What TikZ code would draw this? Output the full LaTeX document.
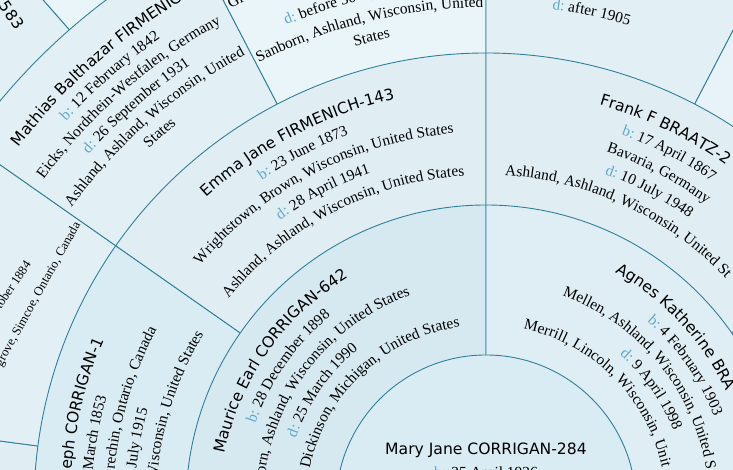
\documentclass[tikz,border=0pt]{standalone}
\usepackage{fontspec}
\setmainfont{Liberation Serif}
\setsansfont{DejaVu Sans}
\usetikzlibrary{decorations.text}

\definecolor{fanline}{HTML}{31809A}
\definecolor{lab}{HTML}{5AA9CB}
\definecolor{selfc}{HTML}{D9EBF3}
\definecolor{malec}{HTML}{D6E9F1}
\definecolor{femc}{HTML}{DFEEF4}
\definecolor{grandc}{HTML}{E0EEF4}
\definecolor{greatc}{HTML}{E2F0F5}
\definecolor{palec}{HTML}{EAF5F9}
\definecolor{midc}{HTML}{E7F3F8}

\newcommand\fnname{\fontsize{15.6}{20.5}\selectfont\sffamily}
\newcommand\fndet{\fontsize{15.4}{20.5}\selectfont\rmfamily}
\newcommand\fnsmall{\fontsize{12.7}{17}\selectfont\rmfamily}
\newcommand\fnlab{\fndet\color{lab}}

\begin{document}
\begin{tikzpicture}[x=1pt, y=1pt, font=\fndet,
  wedge/.style={fill=#1, draw=fanline, line width=0.9pt},
  arcmid/.style={decorate, decoration={text along path, text align=center, text={#1}}},
  arcleft/.style={decorate, decoration={text along path, text align=left, text={#1}}},
  arcright/.style={decorate, decoration={text along path, text align=right, text={#1}}}]
\useasboundingbox (-486,35) rectangle (247,505);

% fifth generation
\path[wedge=palec] (0,0) -- (117.5:720) arc[start angle=117.5, end angle=131.25, radius=720] -- cycle;
\path[wedge=greatc] (0,0) -- (131.25:720) arc[start angle=131.25, end angle=145, radius=720] -- cycle;

% great-grandparents
\path[wedge=grandc] (0,0) -- (172.5:632) arc[start angle=172.5, end angle=200, radius=632] -- cycle;
\path[wedge=greatc] (0,0) -- (145:632) arc[start angle=145, end angle=172.5, radius=632] -- cycle;
\path[wedge=greatc] (0,0) -- (117.5:632) arc[start angle=117.5, end angle=145, radius=632] -- cycle;
\path[wedge=palec] (0,0) -- (90:632) arc[start angle=90, end angle=117.5, radius=632] -- cycle;
\path[wedge=greatc] (0,0) -- (62.5:632) arc[start angle=62.5, end angle=90, radius=632] -- cycle;
\path[wedge=midc] (0,0) -- (35:632) arc[start angle=35, end angle=62.5, radius=632] -- cycle;
\path[wedge=greatc] (0,0) -- (7.5:632) arc[start angle=7.5, end angle=35, radius=632] -- cycle;
\path[wedge=greatc] (0,0) -- (-20:632) arc[start angle=-20, end angle=7.5, radius=632] -- cycle;

% grandparents
\path[wedge=selfc] (0,0) -- (145:452) arc[start angle=145, end angle=200, radius=452] -- cycle;
\path[wedge=grandc] (0,0) -- (90:452) arc[start angle=90, end angle=145, radius=452] -- cycle;
\path[wedge=grandc] (0,0) -- (35:452) arc[start angle=35, end angle=90, radius=452] -- cycle;
\path[wedge=greatc] (0,0) -- (-20:452) arc[start angle=-20, end angle=35, radius=452] -- cycle;

% parents
\path[wedge=malec] (0,0) -- (90:300) arc[start angle=90, end angle=200, radius=300] -- cycle;
\path[wedge=femc] (0,0) -- (-20:300) arc[start angle=-20, end angle=90, radius=300] -- cycle;

% root person
\path[wedge=selfc] (0,0) circle[radius=150];
\node[inner sep=0pt, font=\fnname] (self) at (0,55) {Mary Jane CORRIGAN-284};
\node[inner sep=0pt] (selfb) at (0,31) {\textcolor{lab}{b:} 25 April 1926};

% father
\path[arcmid={|\fnname|Maurice Earl CORRIGAN-642}] (205:266) arc[start angle=205, end angle=85, radius=266];
\path[arcmid={|\fnlab|b: |\fndet|28 December 1898}] (205:244.5) arc[start angle=205, end angle=85, radius=244.5];
\path[arcright={|\fndet|orn, Ashland, Wisconsin, United States}] (235:223) arc[start angle=235, end angle=109.8, radius=223];
\path[arcmid={|\fnlab|d: |\fndet|25 March 1990}] (205:201.5) arc[start angle=205, end angle=85, radius=201.5];
\path[arcright={|\fndet|Dickinson, Michigan, United States}] (235:180) arc[start angle=235, end angle=98.3, radius=180];

% mother
\path[arcleft={|\fnname|Agnes Katherine BRA}] (61:266) arc[start angle=61, end angle=-40, radius=266];
\path[arcmid={|\fnlab|b: |\fndet|4 February 1903}] (95:244.5) arc[start angle=95, end angle=-25, radius=244.5];
\path[arcleft={|\fndet|Mellen, Ashland, Wisconsin, United S}] (70:223) arc[start angle=70, end angle=-40, radius=223];
\path[arcmid={|\fnlab|d: |\fndet|9 April 1998}] (95:201.5) arc[start angle=95, end angle=-25, radius=201.5];
\path[arcleft={|\fndet|Merrill, Lincoln, Wisconsin, Unit}] (78:180) arc[start angle=78, end angle=-40, radius=180];

% paternal grandparents
\path[arcright={|\fnname|eph CORRIGAN-1}] (240:416) arc[start angle=240, end angle=156.7, radius=416];
\path[arcright={|\fndet|March 1853}] (240:394.5) arc[start angle=240, end angle=164.1, radius=394.5];
\path[arcright={|\fndet|rechin, Ontario, Canada}] (240:373) arc[start angle=240, end angle=152, radius=373];
\path[arcright={|\fndet|July 1915}] (240:351.5) arc[start angle=240, end angle=164.2, radius=351.5];
\path[arcright={|\fndet|Wisconsin, United States}] (240:330) arc[start angle=240, end angle=148.8, radius=330];

\path[arcmid={|\fnname|Emma Jane FIRMENICH-143}] (177.5:416) arc[start angle=177.5, end angle=57.5, radius=416];
\path[arcmid={|\fnlab|b: |\fndet|23 June 1873}] (177.5:394.5) arc[start angle=177.5, end angle=57.5, radius=394.5];
\path[arcmid={|\fndet|Wrightstown, Brown, Wisconsin, United States}] (177.5:373) arc[start angle=177.5, end angle=57.5, radius=373];
\path[arcmid={|\fnlab|d: |\fndet|28 April 1941}] (177.5:351.5) arc[start angle=177.5, end angle=57.5, radius=351.5];
\path[arcmid={|\fndet|Ashland, Ashland, Wisconsin, United States}] (177.5:330) arc[start angle=177.5, end angle=57.5, radius=330];

% maternal grandfather
\path[arcleft={|\fnname|Frank F BRAATZ-2}] (74.2:416) arc[start angle=74.2, end angle=-20, radius=416];
\path[arcmid={|\fnlab|b: |\fndet|17 April 1867}] (122.5:394.5) arc[start angle=122.5, end angle=2.5, radius=394.5];
\path[arcmid={|\fndet|Bavaria, Germany}] (122.5:373) arc[start angle=122.5, end angle=2.5, radius=373];
\path[arcmid={|\fnlab|d: |\fndet|10 July 1948}] (122.5:351.5) arc[start angle=122.5, end angle=2.5, radius=351.5];
\path[arcleft={|\fndet|Ashland, Ashland, Wisconsin, United St}] (86.7:330) arc[start angle=86.7, end angle=-20, radius=330];

% great-grandparents
\node[anchor=east, inner sep=0pt, rotate=56, font=\fnsmall] (josmomd) at (-458,243) {tober 1884};
\node[anchor=east, inner sep=0pt, rotate=61, font=\fnsmall] (josmomdp) at (-408,282) {grove, Simcoe, Ontario, Canada};

\path[arcmid={|\fnname|Mathias Balthazar FIRMENICH}] (191.25:588.5) arc[start angle=191.25, end angle=71.25, radius=588.5];
\path[arcmid={|\fnlab|b: |\fndet|12 February 1842}] (191.25:568.9) arc[start angle=191.25, end angle=71.25, radius=568.9];
\path[arcmid={|\fndet|Eicks, Nordrhein-Westfalen, Germany}] (191.25:549.3) arc[start angle=191.25, end angle=71.25, radius=549.3];
\path[arcmid={|\fnlab|d: |\fndet|26 September 1931}] (191.25:529.7) arc[start angle=191.25, end angle=71.25, radius=529.7];
\path[arcmid={|\fndet|Ashland, Ashland, Wisconsin, United}] (191.25:510.1) arc[start angle=191.25, end angle=71.25, radius=510.1];
\path[arcmid={|\fndet|States}] (191.25:490.5) arc[start angle=191.25, end angle=71.25, radius=490.5];

\path[arcleft={|\fndet|Gr}] (117.2:558.5) arc[start angle=117.2, end angle=60, radius=558.5];
\path[arcleft={|\fnlab|d: |\fndet|before 30 Ap}] (112.6:520) arc[start angle=112.6, end angle=40, radius=520];
\path[arcmid={|\fndet|Sanborn, Ashland, Wisconsin, United}] (163.75:497.5) arc[start angle=163.75, end angle=43.75, radius=497.5];
\path[arcmid={|\fndet|States}] (163.75:477) arc[start angle=163.75, end angle=43.75, radius=477];

\path[arcmid={|\fnlab|d: |\fndet|after 1905}] (137.9:500) arc[start angle=137.9, end angle=17.9, radius=500];

% fifth generation
\node[inner sep=0pt, rotate=-56, font=\fnname] (ggid) at (-474,490) {583};
\end{tikzpicture}
\end{document}
